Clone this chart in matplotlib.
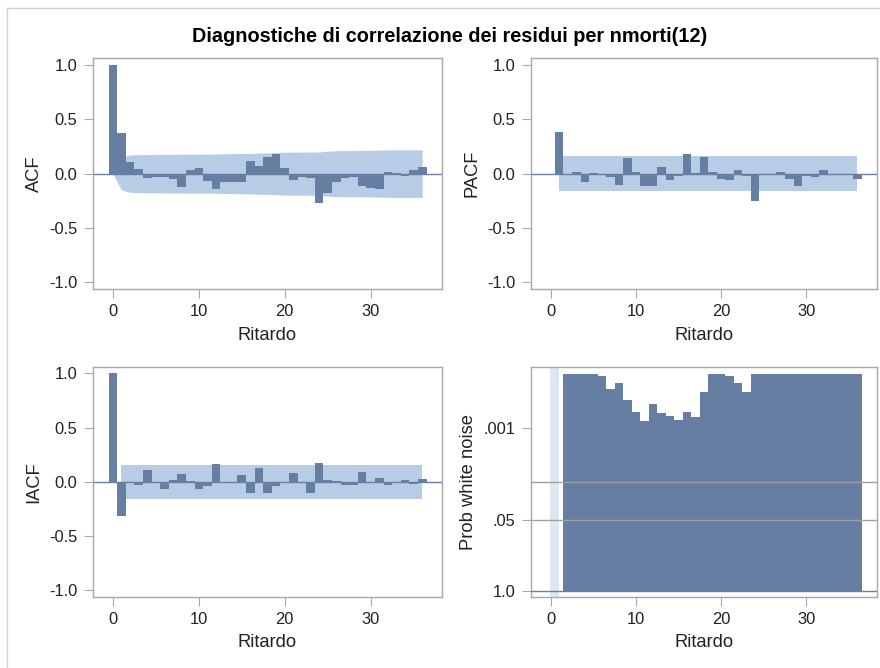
import numpy as np
import matplotlib
matplotlib.use("Agg")
import matplotlib.pyplot as plt
from matplotlib.lines import Line2D

plt.rcParams['font.family'] = ['Liberation Sans', 'DejaVu Sans']
plt.rcParams['axes.unicode_minus'] = False

# ritardi 0..36
lags = np.arange(0, 37)

acf = [1.0, 0.37, 0.11, 0.045, -0.04, -0.03, -0.03, -0.05, -0.12, 0.03,
       0.05, -0.065, -0.145, -0.075, -0.08, -0.08, 0.115, 0.07, 0.155, 0.18,
       0.055, -0.055, -0.035, -0.04, -0.27, -0.18, -0.075, -0.04, -0.035, -0.115,
       -0.135, -0.145, 0.015, 0.005, -0.025, 0.03, 0.065]

# limiti +/- 2 errori standard per ACF
acf_band = [0.0, 0.15, 0.172, 0.175, 0.176, 0.177, 0.177, 0.178, 0.178, 0.179,
            0.179, 0.180, 0.180, 0.183, 0.184, 0.185, 0.186, 0.189, 0.190, 0.193,
            0.197, 0.198, 0.198, 0.199, 0.199, 0.207, 0.211, 0.212, 0.212, 0.213,
            0.214, 0.216, 0.218, 0.218, 0.218, 0.218, 0.219]

# PACF parte da ritardo 1
pacf = [0.38, -0.01, 0.015, -0.075, 0.01, -0.01, -0.03, -0.10, 0.14, 0.015,
        -0.11, -0.11, 0.06, -0.06, -0.02, 0.18, 0.01, 0.15, 0.015, -0.05,
        -0.06, 0.03, -0.02, -0.25, -0.015, -0.01, 0.015, -0.05, -0.11, -0.02,
        -0.03, 0.03, -0.01, -0.01, -0.005, -0.05]

iacf = [1.0, -0.31, -0.01, -0.03, 0.105, -0.01, -0.07, 0.02, 0.07, 0.005,
        -0.07, -0.04, 0.16, -0.01, -0.01, 0.065, -0.10, 0.13, -0.10, -0.04,
        0.0, 0.08, 0.0, -0.10, 0.17, 0.015, 0.005, -0.025, -0.025, 0.09,
        -0.015, 0.04, -0.025, 0.0, 0.015, -0.02, 0.025]

pacf_band = 0.158
iacf_band = 0.158

# test white noise: p-value per ritardo 2..36 (troncato a 1e-4)
wn_lags = np.arange(2, 37)
wn_prob = [1e-4, 1e-4, 1e-4, 1e-4, 1.1e-4, 1.9e-4, 1.5e-4, 3.0e-4, 5.0e-4, 7.6e-4,
           3.6e-4, 5.2e-4, 6.0e-4, 7.1e-4, 5.0e-4, 6.3e-4, 2.2e-4, 1e-4, 1e-4, 1.1e-4,
           1.5e-4, 2.2e-4, 1e-4, 1e-4, 1e-4, 1e-4, 1e-4, 1e-4, 1e-4, 1e-4,
           1e-4, 1e-4, 1e-4, 1e-4, 1e-4]

bar_col = '#677EA3'
band_col = '#B8CCE5'
pale_col = '#DDE7F3'
zero_col = '#6A7FA5'
frame_col = '#A8A8A8'
text_col = '#222222'

W, H = 880, 668
fig = plt.figure(figsize=(W / 100, H / 100), dpi=100)


def px_axes(x0, y0, x1, y1):
    return fig.add_axes([x0 / W, 1 - y1 / H, (x1 - x0) / W, (y1 - y0) / H])


def style(ax, ylabel, ylab_x):
    for s in ax.spines.values():
        s.set_color(frame_col)
        s.set_linewidth(1)
    ax.tick_params(direction='out', length=6.5, width=0.8, color=frame_col,
                   labelsize=11.9, labelcolor=text_col, pad=4.5)
    ax.set_xlim(-2.35, 38.3)
    ax.set_xticks([0, 10, 20, 30])
    ax.set_xlabel('Ritardo', fontsize=13.2, color=text_col, va='center')
    ax.xaxis.set_label_coords(0.5, -46 / 230.7)
    ax.set_ylabel(ylabel, fontsize=13.2, color=text_col, va='center')
    ax.yaxis.set_label_coords(ylab_x, 0.5)


def corr_panel(ax, x, y, band_x, band_lo, band_hi, ylabel, ylab_x):
    style(ax, ylabel, ylab_x)
    ax.set_ylim(-1.06, 1.06)
    ax.set_yticks([-1.0, -0.5, 0.0, 0.5, 1.0])
    ax.set_yticklabels(['%.1f' % v for v in [-1.0, -0.5, 0.0, 0.5, 1.0]])
    ax.fill_between(band_x, band_lo, band_hi, color=band_col, lw=0, zorder=1)
    ax.axhline(0, color=zero_col, lw=1, zorder=2)
    ax.bar(x, y, width=1.0, color=bar_col, lw=0, zorder=3)


ax_acf = px_axes(92.7, 58.3, 442, 289)
ax_pacf = px_axes(530.7, 58.3, 877, 289)
ax_iacf = px_axes(92.7, 366.7, 442, 597)
ax_wn = px_axes(530.7, 366.7, 877, 597)

acf_band = np.array(acf_band)
corr_panel(ax_acf, lags, acf, lags, -acf_band, acf_band, 'ACF', -58.7 / 349.3)
corr_panel(ax_pacf, lags[1:], pacf, lags[1:], -pacf_band, pacf_band, 'PACF', -58.7 / 346.3)
corr_panel(ax_iacf, lags, iacf, lags[1:], -iacf_band, iacf_band, 'IACF', -58.7 / 349.3)

# pannello probabilita' white noise, scala -log10(p)
style(ax_wn, 'Prob white noise', -62.4 / 346.3)
ax_wn.set_ylim(-0.118, 4.13)
ax_wn.axvspan(-0.1, 0.95, color=pale_col, lw=0, zorder=0)
ax_wn.bar(wn_lags, -np.log10(wn_prob), width=1.0, color=bar_col, lw=0, zorder=2)
for p in [0.05, 0.01]:
    ax_wn.axhline(-np.log10(p), color='#A0A0A0', lw=1, zorder=3)
ax_wn.axhline(0, color=zero_col, lw=1, zorder=3)
ax_wn.set_yticks([0, -np.log10(0.05), 3])
ax_wn.set_yticklabels(['1.0', '.05', '.001'])

fig.text(450 / W, 1 - 36 / H, 'Diagnostiche di correlazione dei residui per nmorti(12)',
         ha='center', va='center', fontsize=14.3, fontweight='bold', color='black')

# cornice della figura
fig.add_artist(Line2D([7 / W, 1], [1 - 8 / H, 1 - 8 / H], color='#D0D0D0', lw=1))
fig.add_artist(Line2D([7 / W, 7 / W], [0, 1 - 8 / H], color='#D0D0D0', lw=1))

fig.savefig('out.png', dpi=100)
